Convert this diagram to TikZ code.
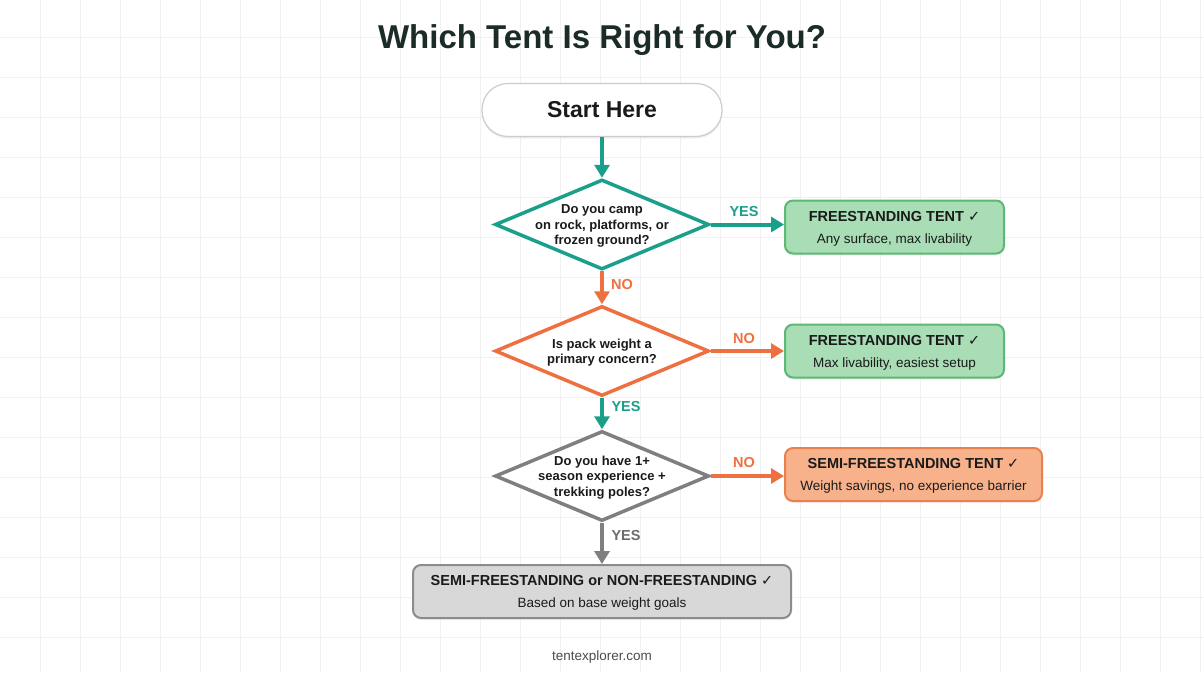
\documentclass[tikz,border=0pt]{standalone}
\usepackage{fontspec}
\setmainfont{Liberation Sans}
\newfontfamily\symf{DejaVu Sans}
\usetikzlibrary{shapes.geometric,arrows.meta,shadows,calc}
\definecolor{tealc}{HTML}{1AA08A}
\definecolor{orangec}{HTML}{EE7040}
\definecolor{grayc}{HTML}{7F7F7F}
\definecolor{greenfill}{HTML}{A8DDB5}
\definecolor{greenline}{HTML}{5CB873}
\definecolor{orfill}{HTML}{F7B28B}
\definecolor{orline}{HTML}{E7824F}
\definecolor{gyfill}{HTML}{D8D8D8}
\definecolor{gyline}{HTML}{8C8C8C}
\definecolor{gridc}{HTML}{F1F1F1}
\definecolor{titlec}{HTML}{1B2B28}
\definecolor{inkc}{HTML}{1A1A1A}
\definecolor{startline}{HTML}{CCCCCC}
\newcommand{\ck}{{\symf\char"2713}}
\begin{document}
\begin{tikzpicture}[x=1pt,y=-1pt,
  titlestyle/.style={font=\fontsize{33}{40}\selectfont\bfseries, text=titlec},
  startbox/.style={draw=startline, fill=white, line width=1.2pt, rounded corners=26pt,
    minimum width=240pt, minimum height=53pt, inner sep=0pt,
    font=\fontsize{23}{28}\selectfont\bfseries, text=inkc,
    drop shadow={opacity=0.12, shadow xshift=0pt, shadow yshift=-2pt}},
  dia/.style={diamond, fill=white, line width=3.5pt, minimum width=214pt, minimum height=90pt, inner sep=0pt},
  qtext/.style={align=center, font=\fontsize{13}{15.2}\selectfont\bfseries, text=inkc, inner sep=0pt},
  result/.style={rectangle, rounded corners=8pt, line width=2pt, minimum height=53pt, inner sep=0pt,
    drop shadow={opacity=0.10, shadow xshift=0pt, shadow yshift=-2pt}},
  rtitle/.style={anchor=base, inner sep=0pt, font=\fontsize{14.5}{17}\selectfont\bfseries, text=inkc},
  rsub/.style={anchor=base, inner sep=0pt, font=\fontsize{13.5}{16}\selectfont, text=inkc},
  greenbox/.style={result, fill=greenfill, draw=greenline, minimum width=219pt},
  flow/.style={line width=4pt, -{Triangle[length=13pt,width=15pt]}},
  lab/.style={font=\fontsize{14.5}{17}\selectfont\bfseries, inner sep=0pt}
]
\fill[white] (0,0) rectangle (1204,672);
\useasboundingbox (0,0) rectangle (1204,672);
\foreach \x in {40,80,...,1200} \draw[gridc, line width=1pt] (\x,0) -- (\x,672);
\foreach \y in {37,77,...,672} \draw[gridc, line width=1pt] (0,\y) -- (1204,\y);

\node[titlestyle] (title) at (602,40) {Which Tent Is Right for You?};
\node[startbox] (start) at (602,110) {Start Here};

\node[dia, draw=tealc] (d1) at (602,224.5) {};
\node[qtext] (q1) at ($(d1)+(0,1.5)$) {Do you camp\\on rock, platforms, or\\frozen ground?};
\node[dia, draw=orangec] (d2) at (602,351) {};
\node[qtext] (q2) at ($(d2)+(0,1.5)$) {Is pack weight a\\primary concern?};
\node[dia, draw=grayc] (d3) at (602,476) {};
\node[qtext] (q3) at ($(d3)+(0,1.5)$) {Do you have 1+\\season experience +\\trekking poles?};

\node[greenbox] (r1) at (894.5,227) {};
\node[rtitle] (r1t) at ($(r1)+(0,-6)$) {FREESTANDING TENT \ck};
\node[rsub] (r1s) at ($(r1)+(0,16)$) {Any surface, max livability};
\node[greenbox] (r2) at (894.5,351) {};
\node[rtitle] (r2t) at ($(r2)+(0,-6)$) {FREESTANDING TENT \ck};
\node[rsub] (r2s) at ($(r2)+(0,16)$) {Max livability, easiest setup};
\node[result, fill=orfill, draw=orline, minimum width=257pt] (r3) at (913.5,474.5) {};
\node[rtitle] (r3t) at ($(r3)+(0,-6)$) {SEMI-FREESTANDING TENT \ck};
\node[rsub] (r3s) at ($(r3)+(0,16)$) {Weight savings, no experience barrier};
\node[result, fill=gyfill, draw=gyline, minimum width=378pt] (r4) at (602,591.5) {};
\node[rtitle] (r4t) at ($(r4)+(0,-6)$) {SEMI-FREESTANDING or NON-FREESTANDING \ck};
\node[rsub] (r4s) at ($(r4)+(0,16)$) {Based on base weight goals};

\draw[flow, tealc] (start.south) -- (d1.north);
\draw[flow, tealc] (d1.east) -- (d1.east -| r1.west);
\draw[flow, orangec] (d1.south) -- (d2.north);
\draw[flow, orangec] (d2.east) -- (d2.east -| r2.west);
\draw[flow, tealc] (d2.south) -- (d3.north);
\draw[flow, orangec] (d3.east) -- (d3.east -| r3.west);
\draw[flow, grayc] (d3.south) -- (r4.north);

\node[lab, text=tealc] (l1) at (744,212) {YES};
\node[lab, text=orangec] (l2) at (622,285) {NO};
\node[lab, text=orangec] (l3) at (744,339) {NO};
\node[lab, text=tealc] (l4) at (626,407) {YES};
\node[lab, text=orangec] (l5) at (744,463) {NO};
\node[lab, text=grayc!85!black] (l6) at (626,535) {YES};

\node[font=\fontsize{13.5}{16}\selectfont, text=black!70] (foot) at (602,657) {tentexplorer.com};
\end{tikzpicture}
\end{document}
